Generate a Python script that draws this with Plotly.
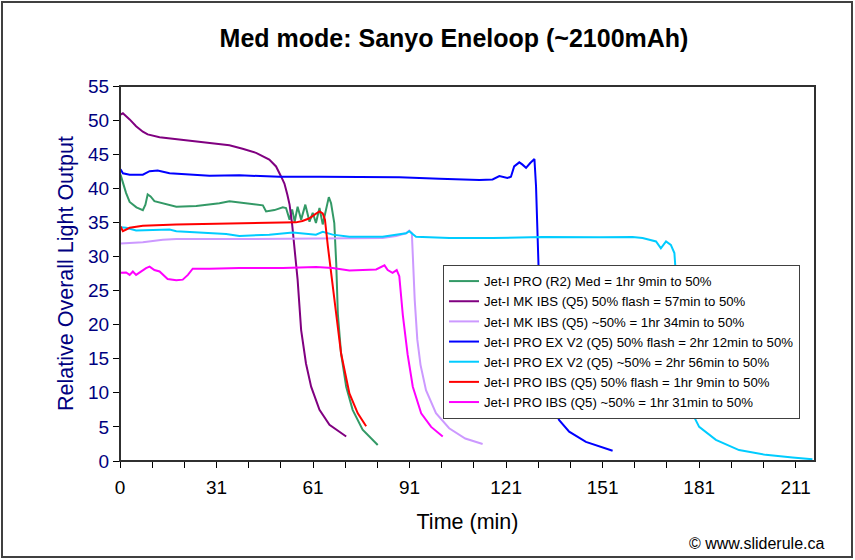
import plotly.graph_objects as go

# ---- Data (x = minutes index, y = relative output) ----
pro_r2_x = [0.16, 0.9, 1.9, 3.0, 5.1, 7.1, 7.9, 8.6, 9.5, 10.7, 13.8, 17.5, 23.7, 30.9, 34.0, 40.2, 44.4, 45.4, 48.0, 50.6, 51.6,
            52.7, 53.5, 54.3, 55.2, 56.3, 57.6, 58.9, 59.9, 60.9, 62.0, 63.0, 64.1, 64.9, 65.6, 66.6, 67.2, 67.7, 68.7, 70.3,
            72.3, 75.4, 80.1]
pro_r2_y = [42.0, 40.8, 39.3, 38.0, 37.2, 36.8, 37.6, 39.1, 38.8, 38.1, 37.7, 37.3, 37.4, 37.8, 38.1, 37.8, 37.5, 36.6, 36.8, 37.2, 37.1,
            35.4, 36.9, 35.1, 37.3, 35.4, 37.6, 35.1, 36.4, 34.9, 37.1, 34.7, 36.9, 38.7, 37.8, 34.9, 29.0, 21.6, 15.8, 10.9,
            7.5, 4.6, 2.35]

mk_flash_x = [0.16, 0.9, 3.0, 5.0, 7.1, 8.6, 12.3, 17.5, 22.6, 27.8, 34.0, 38.1, 42.3, 46.4, 48.5, 50.1, 51.1, 52.0, 52.7,
              53.5, 54.2, 55.2, 56.3, 57.8, 59.4, 62.0, 65.1, 70.3]
mk_flash_y = [50.8, 51.0, 50.1, 49.1, 48.3, 47.9, 47.5, 47.2, 46.9, 46.7, 46.3, 45.8, 45.2, 44.2, 43.2, 41.7, 40.7, 39.1, 37.6,
              34.7, 31.0, 26.6, 19.2, 14.3, 10.9, 7.5, 5.3, 3.6]

mk_50_x = [0.16, 7.1, 13.3, 17.5, 37.1, 55.8, 74.4, 81.6, 85.8, 88.9, 89.9, 90.7, 91.0, 91.6, 92.4, 93.4, 95.1, 98.2, 102.3,
           107.3, 112.7]
mk_50_y = [31.9, 32.1, 32.45, 32.55, 32.55, 32.6, 32.6, 32.7, 33.0, 33.4, 33.8, 33.4, 30.2, 23.6, 17.8, 14.1, 10.4, 7.0, 4.8,
           3.3, 2.5]

ex_flash_x = [0.16, 0.9, 3.0, 7.1, 9.2, 11.7, 15.4, 21.6, 27.8, 37.1, 49.5, 62.0, 74.4, 86.8, 99.3, 111.7, 115.8, 117.9, 120.4,
              121.5, 122.5, 124.1, 125.0, 126.2, 127.5, 128.8, 129.3, 129.8, 130.1, 130.6, 131.5, 132.8, 134.4, 136.5, 139.6,
              144.8, 153.1]
ex_flash_y = [42.8, 42.2, 42.0, 42.0, 42.5, 42.6, 42.2, 42.0, 41.85, 41.9, 41.7, 41.7, 41.7, 41.6, 41.4, 41.2, 41.3, 41.8, 41.5,
              41.7, 43.2, 43.8, 43.5, 43.0, 43.7, 44.3, 40.3, 31.5, 28.0, 20.7, 14.8, 10.4, 8.0, 6.0, 4.3,
              2.8, 1.5]

ex_50_x = [0.16, 1.9, 5.0, 9.2, 15.4, 17.5, 23.7, 27.8, 33.0, 37.1, 46.4, 53.7, 60.9, 63.0, 66.1, 71.3, 81.6, 88.9, 89.9, 92.0,
           102.4, 115.8, 131.3, 149.0, 159.3, 162.4, 166.6, 168.1, 169.7, 171.2, 172.3, 172.6, 172.9, 173.5, 174.4, 175.7,
           176.9, 180.0, 185.2, 192.4, 200.7, 209.0, 215.2]
ex_50_y = [34.3, 34.2, 33.8, 33.85, 33.95, 33.7, 33.5, 33.4, 33.3, 33.0, 33.2, 33.5, 33.2, 33.6, 33.2, 32.9, 32.9, 33.4, 33.7, 32.9,
           32.7, 32.7, 32.85, 32.8, 32.85, 32.7, 32.2, 31.2, 32.2, 31.7, 30.5, 28.5, 23.6, 17.8, 13.4, 9.7,
           7.9, 5.0, 3.1, 1.6, 0.9, 0.5, 0.25]

pro_flash_x = [0.16, 0.9, 3.0, 7.1, 17.5, 27.8, 38.1, 50.6, 54.7, 56.7, 58.9, 60.7, 62.0, 63.0, 63.7, 64.6, 65.6, 67.2, 68.7,
               71.3, 73.9, 76.5]
pro_flash_y = [34.4, 33.7, 34.2, 34.5, 34.7, 34.8, 34.9, 35.0, 35.0, 35.2, 35.6, 36.2, 36.6, 36.3, 35.4, 31.5, 27.6, 21.7, 15.8,
               9.9, 7.0, 5.1]

pro_50_x = [0.16, 1.9, 3.0, 4.0, 5.0, 6.6, 8.1, 9.2, 10.7, 12.3, 13.3, 14.8, 17.5, 19.5, 21.1, 22.6, 27.8, 37.1, 50.6, 60.9,
            66.1, 71.3, 79.6, 82.2, 83.2, 84.7, 86.0, 86.8, 87.9, 89.4, 91.0, 93.6, 96.7, 100.3]
pro_50_y = [27.6, 27.65, 27.3, 27.8, 27.3, 27.8, 28.3, 28.5, 28.0, 27.8, 27.3, 26.7, 26.5, 26.6, 27.3, 28.2, 28.2, 28.3, 28.3, 28.45,
            28.3, 27.95, 28.1, 28.7, 28.0, 27.6, 28.0, 27.1, 21.4, 15.6, 10.9, 7.0, 5.0, 3.6]

series_names = [
    "Jet-I PRO (R2) Med = 1hr 9min to 50%",
    "Jet-I MK IBS (Q5) 50% flash = 57min to 50%",
    "Jet-I MK IBS (Q5) ~50% = 1hr 34min to 50%",
    "Jet-I PRO EX V2 (Q5) 50% flash = 2hr 12min to 50%",
    "Jet-I PRO EX V2 (Q5) ~50% = 2hr 56min to 50%",
    "Jet-I PRO IBS (Q5) 50% flash = 1hr 9min to 50%",
    "Jet-I PRO IBS (Q5) ~50% = 1hr 31min to 50%",
]
series_colors = ["#339966", "#800080", "#CC99FF", "#0000FF", "#00CCFF", "#FF0000", "#FF00FF"]
series_x = [pro_r2_x, mk_flash_x, mk_50_x, ex_flash_x, ex_50_x, pro_flash_x, pro_50_x]
series_y = [pro_r2_y, mk_flash_y, mk_50_y, ex_flash_y, ex_50_y, pro_flash_y, pro_50_y]

x_tick_vals = [0, 30, 60, 90, 120, 150, 180, 210]
x_tick_text = ["0", "31", "61", "91", "121", "151", "181", "211"]
x_minor_vals = list(range(0, 216, 10))
y_tick_vals = list(range(0, 56, 5))

FONT = "Arial, 'Liberation Sans', sans-serif"

fig = go.Figure()
for name, color, xs, ys in zip(series_names, series_colors, series_x, series_y):
    fig.add_trace(go.Scatter(x=xs, y=ys, mode="lines", name=name,
                             line=dict(color=color, width=2)))

W, H = 855, 560
L, R, T, B = 120, 40, 86, 99
pw, ph = W - L - R, H - T - B


def px_x(p):
    return (p - L) / pw


def px_y(p):
    return (H - B - p) / ph


fig.update_layout(
    width=W, height=H,
    margin=dict(l=L, r=R, t=T, b=B),
    paper_bgcolor="white", plot_bgcolor="white",
    font=dict(family=FONT, color="black"),
    title=dict(text="<b>Med mode: Sanyo Eneloop (~2100mAh)</b>", x=454 / W, xanchor="center",
               y=1 - 38 / H, yanchor="middle", yref="container", xref="container",
               font=dict(size=25, family=FONT, color="black")),
    showlegend=True,
    legend=dict(x=px_x(443), y=px_y(265), xanchor="left", yanchor="top",
                bgcolor="white", bordercolor="#404040", borderwidth=1,
                font=dict(size=13.2, family=FONT, color="black"),
                itemwidth=30, tracegroupgap=0),
    xaxis=dict(range=[0, 216], tickmode="array", tickvals=x_tick_vals, ticktext=x_tick_text,
               ticks="outside", ticklen=6, tickcolor="black", showgrid=False, zeroline=False,
               showline=True, linecolor="black", linewidth=1,
               tickfont=dict(size=19, color="black"), ticklabelstandoff=3,
               minor=dict(tickmode="array", tickvals=x_minor_vals, ticks="outside", ticklen=6, tickcolor="black"),
               title=dict(text="Time (min)", font=dict(size=21.5, color="black"), standoff=17)),
    yaxis=dict(range=[0, 55], tickmode="array", tickvals=y_tick_vals,
               ticks="outside", ticklen=6, tickcolor="black", showgrid=False, zeroline=False,
               showline=True, linecolor="black", linewidth=1,
               tickfont=dict(size=19, color="#000080"),
               title=dict(text="Relative Overall Light Output", font=dict(size=21.5, color="#000080"), standoff=8)),
    shapes=[
        # plot area border (top/right)
        dict(type="rect", xref="paper", yref="paper", x0=0, y0=0, x1=1, y1=1,
             line=dict(color="#303030", width=2), layer="above"),
        # outer chart border
        dict(type="rect", xref="paper", yref="paper", x0=px_x(2), y0=px_y(557), x1=px_x(852), y1=px_y(2),
             line=dict(color="#404040", width=2)),
    ],
    annotations=[
        dict(text="© www.sliderule.ca", xref="paper", yref="paper", x=px_x(826), y=px_y(543),
             xanchor="right", yanchor="middle", showarrow=False, font=dict(size=16, color="black")),
    ],
)

fig.write_html("out.html", config={"displayModeBar": False},
               post_script="document.body.style.margin='0px';")
